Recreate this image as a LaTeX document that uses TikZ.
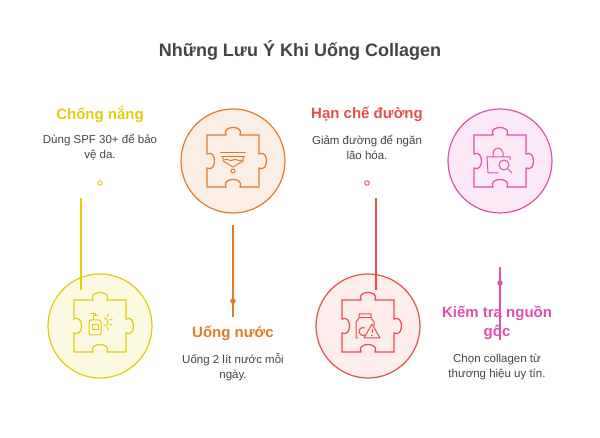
\documentclass[tikz,border=0pt]{standalone}
\usepackage{fontspec}
\setmainfont{Liberation Sans}
\usetikzlibrary{positioning}
\definecolor{cyel}{HTML}{E2CC12}
\definecolor{cora}{HTML}{E07B2A}
\definecolor{cred}{HTML}{E84C4C}
\definecolor{cpink}{HTML}{DE4FAF}
\definecolor{ctxt}{HTML}{444444}
\begin{document}
\begin{tikzpicture}[x=1pt,y=1pt,
	disc/.style={circle,draw,line width=1.2pt,minimum size=104pt},
	head/.style={font=\bfseries\fontsize{15}{19}\selectfont,align=center},
	desc/.style={text=ctxt,font=\fontsize{11.5}{15}\selectfont,align=center},
	dot/.style={circle,draw,line width=0.9pt,inner sep=0pt,minimum size=4.5pt,fill=white},
	puzzle/.pic={
		\draw[line width=1.2pt] (-26,26) -- (-7,26) .. controls (-12,36) and (12,36) .. (7,26)
		-- (26,26) -- (26,7) .. controls (36,12) and (36,-12) .. (26,-7) -- (26,-26)
		-- (7,-26) .. controls (12,-16) and (-12,-16) .. (-7,-26) -- (-26,-26)
		-- (-26,-7) .. controls (-16,-12) and (-16,12) .. (-26,7) -- cycle;}
	]
	\useasboundingbox (0,0) rectangle (600,-438);
	\node[font=\bfseries\fontsize{18}{22}\selectfont,text=ctxt] (ttl) at (300,-50) {Những Lưu Ý Khi Uống Collagen};

	% circles
	\node[disc,draw=cyel,fill=cyel!12] (sun) at (100,-326) {};
	\node[disc,draw=cora,fill=cora!12] (wat) at (233,-161) {};
	\node[disc,draw=cred,fill=cred!10] (sug) at (368,-326) {};
	\node[disc,draw=cpink,fill=cpink!12] (src) at (500,-161) {};
	\pic[draw=cyel] at (sun) {puzzle};
	\pic[draw=cora] at (wat) {puzzle};
	\pic[draw=cred] at (sug) {puzzle};
	\pic[draw=cpink] at (src) {puzzle};

	% icons
	\begin{scope}[shift={(sun.center)},draw=cyel,line width=1pt]
		\draw[rounded corners=2pt] (-11,-9) rectangle (1,6);
		\draw (-8,-4) rectangle (-2,1);
		\draw (-7,6) -- (-7,10) -- (-2,10) (-5,10) -- (-5,12) -- (-9,12);
		\draw (4,0) arc[start angle=-90,end angle=90,radius=4];
		\foreach \a in {-60,-20,20,60} \draw (4,4) ++(\a:6) -- ++(\a:3);
	\end{scope}
	\begin{scope}[shift={(wat.center)},draw=cora,line width=1pt]
		\draw (-13,8) -- (13,8) (-12,4) -- (12,4);
		\draw (-10,4) -- (-10,0) -- (0,-6) -- (10,0) -- (10,4);
		\draw (-9,1) .. controls (-5,3) and (-3,-1) .. (0,1) .. controls (3,3) and (5,-1) .. (9,1);
		\draw (0,-10) circle (2);
	\end{scope}
	\begin{scope}[shift={(sug.center)},draw=cred,line width=1pt]
		\draw (-10,-12) -- (-12,-12) -- (-12,4) -- (-9,8) -- (-9,12) -- (3,12) -- (3,8) -- (6,4) -- (6,0);
		\draw (-9,8) -- (3,8);
		\draw (-3,-2) arc[start angle=60,end angle=300,radius=4];
		\draw[line join=round] (4,2) -- (12,-12) -- (-4,-12) -- cycle;
		\draw (4,-3) -- (4,-7);
		\fill[cred] (4,-9.5) circle (0.9);
	\end{scope}
	\begin{scope}[shift={(src.center)},draw=cpink,line width=1pt]
		\draw (-2,-12) -- (-12,-12) -- (-13,4) -- (10,4) -- (10,1);
		\draw (-7,4) -- (-7,8) arc[start angle=180,end angle=0,radius=5] -- (3,4);
		\draw (4,-4) circle (5);
		\draw (8,-8) -- (12,-12);
	\end{scope}

	% connectors
	\node[dot,draw=cyel] (sunDot) at (100,-183) {};
	\coordinate (sunTop) at (81,-198);
	\coordinate (sunEnd) at (81,-290);
	\draw[cyel,line width=1.1pt] (sunTop) -- (sunEnd);
	\node[dot,draw=cora,fill=cora] (watDot) at (233,-301) {};
	\coordinate (watTop) at (233,-225);
	\coordinate (watEnd) at (233,-317);
	\draw[cora,line width=1.1pt] (watTop) -- (watEnd);
	\node[dot,draw=cred] (sugDot) at (367,-183) {};
	\coordinate (sugTop) at (376,-198);
	\coordinate (sugEnd) at (376,-290);
	\draw[cred,line width=1.1pt] (sugTop) -- (sugEnd);
	\coordinate (srcTop) at (500,-267);
	\coordinate (srcEnd) at (500,-340);
	\draw[cpink,line width=1.1pt] (srcTop) -- (srcEnd);
	\node[dot,draw=cpink,fill=cpink] (srcDot) at (500,-283) {};

	% labels
	\node[head,text=cyel] (sunHd) at (100,-114) {Chống nắng};
	\node[desc] (sunTx) at (100,-147) {Dùng SPF 30+ để bảo\\vệ da.};
	\node[head,text=cora] (watHd) at (233,-333) {Uống nước};
	\node[desc] (watTx) at (233,-367) {Uống 2 lít nước mỗi\\ngày.};
	\node[head,text=cred] (sugHd) at (367,-114) {Hạn chế đường};
	\node[desc] (sugTx) at (367,-147) {Giảm đường để ngăn\\lão hóa.};
	\node[head,text=cpink] (srcHd) at (497,-323) {Kiếm tra nguồn\\gốc};
	\node[desc] (srcTx) at (497,-367) {Chọn collagen từ\\thương hiệu uy tín.};
\end{tikzpicture}
\end{document}
